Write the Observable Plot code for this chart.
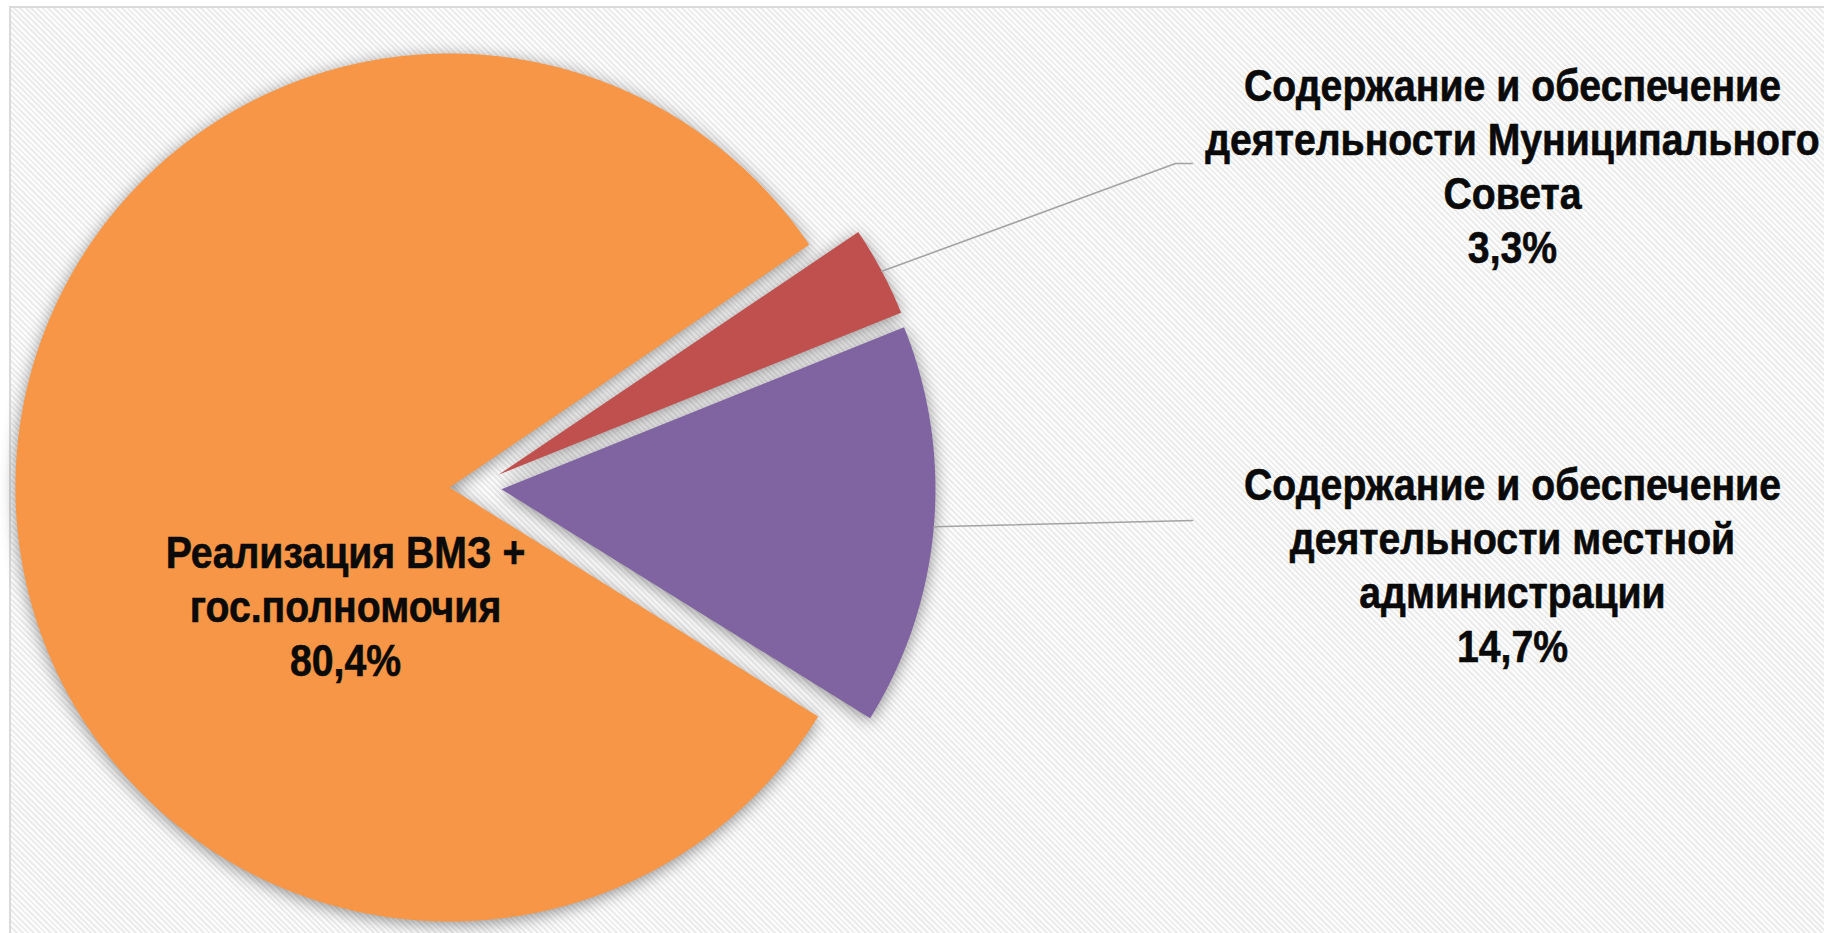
<!DOCTYPE html>
<html><head><meta charset="utf-8">
<script src="https://cdn.jsdelivr.net/npm/d3@7"></script>
<script src="https://cdn.jsdelivr.net/npm/@observablehq/plot@0.6"></script>
<style>
html,body{margin:0;padding:0;background:#fff;}
#wrap{position:relative;width:1824px;height:933px;overflow:hidden;}
#frame{position:absolute;left:9px;top:6px;width:1830px;height:940px;border:2px solid #dadada;
  background:repeating-linear-gradient(45deg,#fdfdfd 0px,#fdfdfd 2px,#ececec 2px,#ececec 4px);}
#chart{position:absolute;left:0;top:0;width:1824px;height:933px;}
</style></head>
<body><div id="wrap"><div id="frame"></div><div id="chart"></div></div>
<script>
// ---- data ----
const categories = [
  "Содержание и обеспечение деятельности Муниципального Совета",
  "Содержание и обеспечение деятельности местной администрации",
  "Реализация ВМЗ + гос.полномочия"
];
const values = [3.3, 14.7, 80.4];
const colors = ["#C0504D", "#8064A2", "#F79646"];
const labelLines = [
  ["Содержание и обеспечение", "деятельности Муниципального", "Совета"],
  ["Содержание и обеспечение", "деятельности местной", "администрации"],
  ["Реализация ВМЗ +", "гос.полномочия"]
];

// ---- layout ----
const W = 1824, H = 933;
const RPX = 434;            // pie radius in px
const CX = 475, CY = 486.5; // pie centre in px
const toU = px => (px - CX) / RPX;
const toV = py => (CY - py) / RPX;
const START_DEG = 56;
const EXPLODE = 0.06;
const FONT = "'Liberation Sans','Arial',sans-serif";
const FONT_SIZE = 44;
const LINE_PX = 54;
const TARGET_W = 537;       // px width of "Содержание и обеспечение" in the reference
const labelPos = [ {x: 1512, top: 62}, {x: 1512, top: 461}, {x: 345, top: 529} ];
const leaderEnds = [ [[1175,163],[1192,163]], [[1192,520]] ];

const fmt = v => String(v).replace(".", ",") + "%";

// ---- pie geometry ----
const pie = d3.pie().sort(null).sortValues(null)
  .startAngle(START_DEG * Math.PI / 180)
  .endAngle((START_DEG + 360) * Math.PI / 180);
const arcs = pie(values);
const slicePts = [];
const mids = [];
arcs.forEach((a, i) => {
  const mid = (a.startAngle + a.endAngle) / 2;
  const ox = EXPLODE * Math.sin(mid), oy = EXPLODE * Math.cos(mid);
  mids.push({mid, ox, oy});
  slicePts.push({k: categories[i], u: ox, v: oy});
  const n = Math.max(8, Math.ceil((a.endAngle - a.startAngle) / (Math.PI / 720)));
  for (let j = 0; j <= n; j++) {
    const t = a.startAngle + (a.endAngle - a.startAngle) * j / n;
    slicePts.push({k: categories[i], u: ox + Math.sin(t), v: oy + Math.cos(t)});
  }
  slicePts.push({k: categories[i], u: ox, v: oy});
});

// leaders (from slice edge at mid angle to label)
const leaderPts = [];
leaderEnds.forEach((ends, i) => {
  const m = mids[i];
  leaderPts.push({k: i, u: m.ox + Math.sin(m.mid), v: m.oy + Math.cos(m.mid)});
  ends.forEach(([px, py]) => leaderPts.push({k: i, u: toU(px), v: toV(py)}));
});

const labelData = labelLines.map((lines, i) => ({
  t: lines.concat([fmt(values[i])]).join("\n"),
  u: toU(labelPos[i].x),
  v: toV(labelPos[i].top)
}));

const chart = Plot.plot({
  width: W, height: H,
  margin: 0,
  style: {background: "transparent", overflow: "visible"},
  x: {domain: [toU(0), toU(W)], axis: null},
  y: {domain: [toV(H), toV(0)], axis: null},
  color: {domain: categories, range: colors},
  marks: [
    Plot.line(slicePts, {x: "u", y: "v", z: "k", fill: "k", stroke: "none", curve: "linear"}),
    Plot.line(leaderPts, {x: "u", y: "v", z: "k", stroke: "#a3a3a3", strokeWidth: 1.6}),
    Plot.text(labelData, {x: "u", y: "v", text: "t", fontSize: FONT_SIZE, fontWeight: "bold",
      fontFamily: FONT, lineAnchor: "top", lineHeight: LINE_PX / FONT_SIZE, textAnchor: "middle", fill: "#0a0a0a"})
  ]
});
document.getElementById("chart").appendChild(chart);

// soft shadow around slices
const g = chart.querySelector('g[aria-label="line"]');
if (g) g.style.filter = "drop-shadow(0px 3px 8px rgba(0,0,0,0.42))";

// condense the bold labels horizontally (Arial Narrow look)
const texts = Array.from(chart.querySelectorAll('g[aria-label="text"] text'));
let s = 0.85;
try {
  const ts = texts[0].querySelector("tspan") || texts[0];
  const w = ts.getComputedTextLength();
  if (w > 0) s = TARGET_W / w;
} catch (e) {}
texts.forEach(t => {
  t.style.stroke = "#0a0a0a";
  t.style.strokeWidth = "0.6px";
  const tr = t.getAttribute("transform");
  if (tr) t.setAttribute("transform", tr + ` scale(${s},1)`);
  else {
    const x = parseFloat(t.getAttribute("x") || 0);
    t.setAttribute("transform", `translate(${x},0) scale(${s},1) translate(${-x},0)`);
  }
});
</script>
</body></html>
